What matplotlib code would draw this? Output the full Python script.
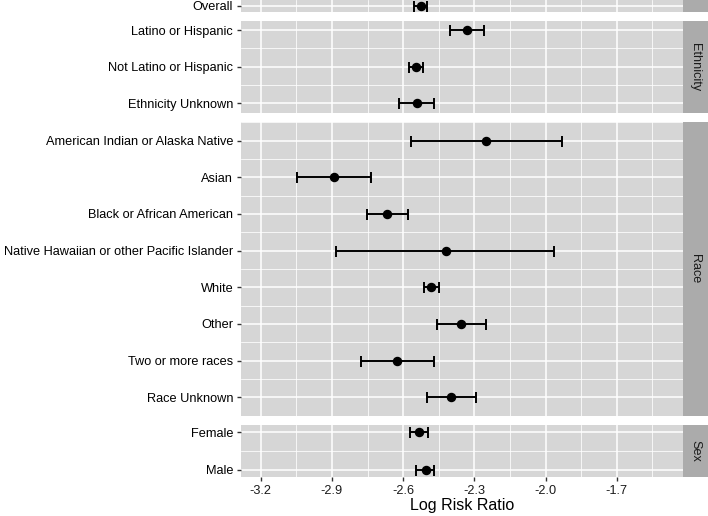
import numpy as np
import matplotlib
matplotlib.use("Agg")
import matplotlib.pyplot as plt

# ---- data ----
overall_labels = ["Overall"]
overall_est = [-2.526]
overall_lo = [-2.553]
overall_hi = [-2.499]

eth_labels = ["Latino or Hispanic", "Not Latino or Hispanic", "Ethnicity Unknown"]
eth_est = [-2.332, -2.547, -2.543]
eth_lo = [-2.404, -2.576, -2.616]
eth_hi = [-2.258, -2.517, -2.470]

race_labels = ["American Indian or Alaska Native", "Asian", "Black or African American",
               "Native Hawaiian or other Pacific Islander", "White", "Other",
               "Two or more races", "Race Unknown"]
race_est = [-2.251, -2.891, -2.666, -2.420, -2.481, -2.355, -2.624, -2.397]
race_lo = [-2.568, -3.047, -2.752, -2.881, -2.513, -2.456, -2.779, -2.498]
race_hi = [-1.932, -2.734, -2.581, -1.964, -2.449, -2.251, -2.470, -2.293]

sex_labels = ["Female", "Male"]
sex_est = [-2.533, -2.505]
sex_lo = [-2.571, -2.546]
sex_hi = [-2.494, -2.471]

x_ticks = [-3.2, -2.9, -2.6, -2.3, -2.0, -1.7]
x_minor = [-3.05, -2.75, -2.45, -2.15, -1.85, -1.55]
x_lim = (-3.283, -1.420)

plt.rcParams['font.family'] = ['Liberation Sans', 'DejaVu Sans']

W, H = 708, 516
fig = plt.figure(figsize=(W / 100, H / 100), dpi=100)

panel_bg = "#D6D6D6"
strip_bg = "#ABABAB"
x_left, x_right = 241, 683.3
strip_right = 708


def px_axes(x0, y0, x1, y1):
    # pixel box (top-left origin) -> figure axes
    return fig.add_axes([x0 / W, 1 - y1 / H, (x1 - x0) / W, (y1 - y0) / H])


def draw_panel(top, bottom, pad, labels, est, lo, hi, strip, last=False):
    ax = px_axes(x_left, top, x_right, bottom)
    n = len(labels)
    y = np.arange(1, n + 1)
    ax.set_facecolor(panel_bg)
    for s in ax.spines.values():
        s.set_visible(False)
    ax.set_xlim(*x_lim)
    ax.set_ylim(n + pad, 1 - pad)

    # grid lines
    for v in x_minor:
        ax.axvline(v, color="white", lw=0.55, zorder=0)
    for v in x_ticks:
        ax.axvline(v, color="white", lw=1.1, zorder=0)
    for v in np.arange(0.5, n + 1, 1.0):
        if 1 - pad <= v <= n + pad:
            ax.axhline(v, color="white", lw=0.55, zorder=0)
    for v in y:
        ax.axhline(v, color="white", lw=1.1, zorder=0)

    est = np.array(est)
    err = np.vstack([est - np.array(lo), np.array(hi) - est])
    ax.errorbar(est, y, xerr=err, fmt="o", color="black", ms=5.8,
                elinewidth=1.4, capsize=3.96, capthick=1.4, zorder=3)

    ax.set_yticks(y)
    ax.set_yticklabels(labels, fontsize=9.2, color="black")
    ax.tick_params(axis="y", length=3.2, width=1.0, color="#333333", pad=2.4)
    ax.set_xticks(x_ticks)
    if last:
        ax.set_xticklabels([f"{v:.1f}" for v in x_ticks], fontsize=9.2, color="#1a1a1a")
        ax.tick_params(axis="x", length=3.2, width=1.0, color="#333333", pad=2.2)
    else:
        ax.tick_params(axis="x", length=0, labelbottom=False)

    # facet strip on the right
    sax = px_axes(x_right, top, strip_right, bottom)
    sax.set_facecolor(strip_bg)
    sax.set_xticks([])
    sax.set_yticks([])
    for s in sax.spines.values():
        s.set_visible(False)
    if strip:
        sax.text(0.5 * (707 - x_right) / (strip_right - x_right), 0.5, strip,
                 rotation=-90, ha="center", va="center", fontsize=9.1,
                 color="#1a1a1a", transform=sax.transAxes)
    return ax


draw_panel(0, 12, 0.15, overall_labels, overall_est, overall_lo, overall_hi, "")
draw_panel(20.7, 112.7, 0.255, eth_labels, eth_est, eth_lo, eth_hi, "Ethnicity")
draw_panel(122.2, 415.7, 0.5, race_labels, race_est, race_lo, race_hi, "Race")
draw_panel(425, 477.3, 0.196, sex_labels, sex_est, sex_lo, sex_hi, "Sex", last=True)

fig.text((x_left + x_right) / 2 / W, 1 - 510 / H, "Log Risk Ratio",
         ha="center", va="baseline", fontsize=11.5, color="black")

fig.savefig("out.png", dpi=100)
